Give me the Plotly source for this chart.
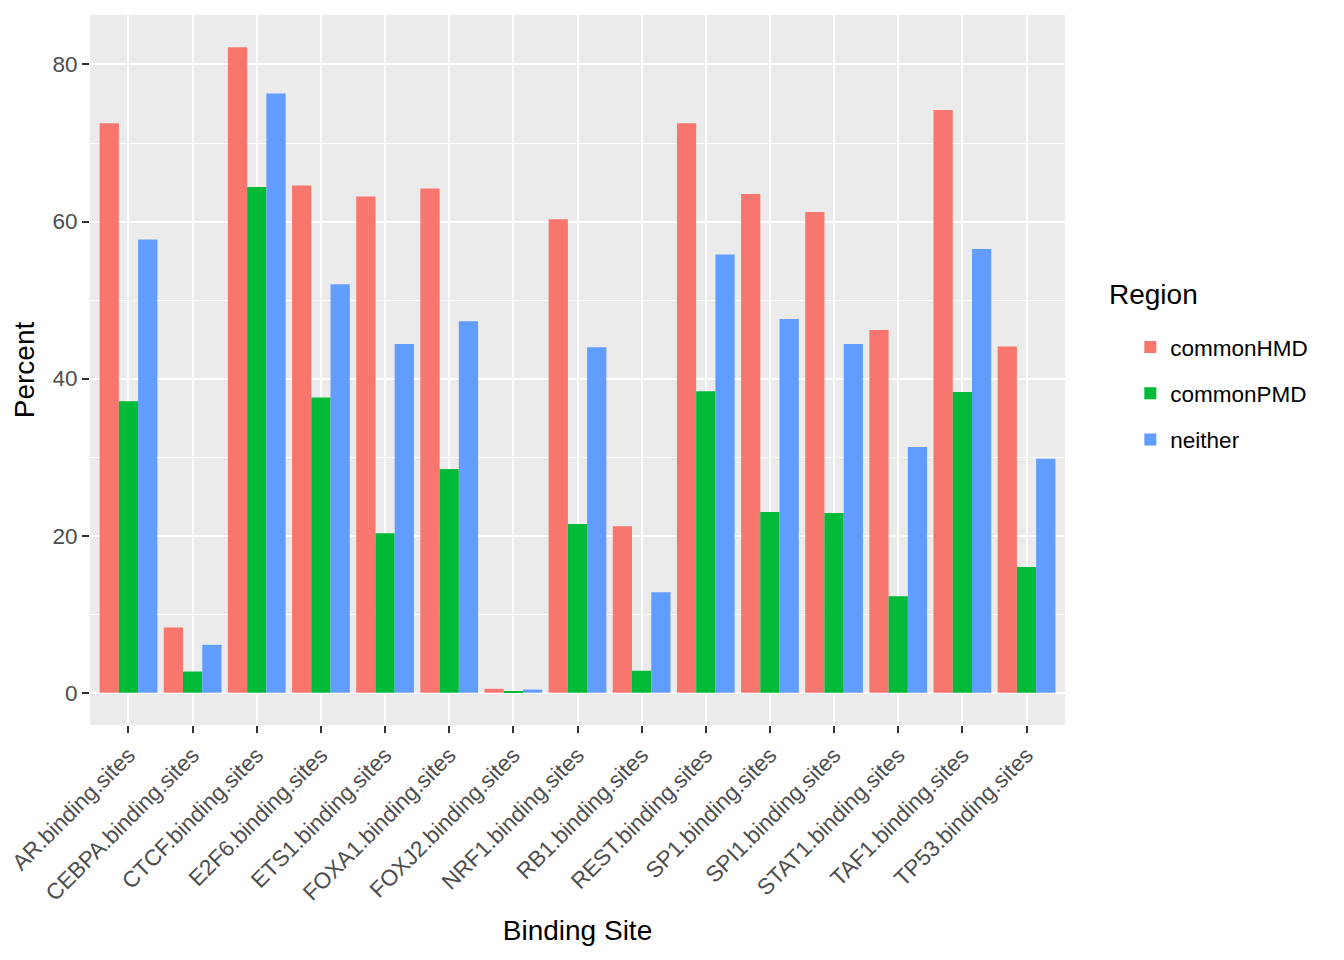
import plotly.graph_objects as go

# data
sites = ['AR.binding.sites', 'CEBPA.binding.sites', 'CTCF.binding.sites', 'E2F6.binding.sites',
         'ETS1.binding.sites', 'FOXA1.binding.sites', 'FOXJ2.binding.sites', 'NRF1.binding.sites',
         'RB1.binding.sites', 'REST.binding.sites', 'SP1.binding.sites', 'SPI1.binding.sites',
         'STAT1.binding.sites', 'TAF1.binding.sites', 'TP53.binding.sites']
commonHMD = [72.5, 8.3, 82.2, 64.6, 63.2, 64.2, 0.5, 60.3, 21.2, 72.5, 63.5, 61.2, 46.2, 74.2, 44.1]
commonPMD = [37.1, 2.7, 64.4, 37.6, 20.3, 28.5, 0.1, 21.5, 2.8, 38.4, 23.0, 22.9, 12.3, 38.3, 16.0]
neither = [57.7, 6.1, 76.3, 52.0, 44.4, 47.3, 0.4, 44.0, 12.8, 55.8, 47.6, 44.4, 31.3, 56.5, 29.8]

fig = go.Figure()
fig.add_trace(go.Bar(x=sites, y=commonHMD, name='commonHMD', legendgroup='a',
                     marker=dict(color='#F8766D', line=dict(width=0))))
fig.add_trace(go.Bar(x=sites, y=commonPMD, name='commonPMD', legendgroup='b',
                     marker=dict(color='#00BA38', line=dict(width=0))))
fig.add_trace(go.Bar(x=sites, y=neither, name='neither', legendgroup='c',
                     marker=dict(color='#619CFF', line=dict(width=0))))

# legend title as a separate annotation so the gap to the items can be set
fig.add_annotation(text='Region', xref='paper', yref='paper', x=1.043, y=0.606,
                   xanchor='left', yanchor='middle', showarrow=False,
                   font=dict(size=28, color='black'))

# page body has an 8px margin, so the figure is a bit smaller than the window
fig.update_layout(
    width=1328, height=944,
    barmode='group', bargap=0.1, bargroupgap=0,
    font=dict(family='Liberation Sans, Arial, sans-serif', color='black'),
    paper_bgcolor='white', plot_bgcolor='#EBEBEB',
    margin=dict(l=82, r=271, t=7, b=227),
    xaxis=dict(title=dict(text='Binding Site', font=dict(size=28), standoff=15),
               range=[-0.6, 14.6], showgrid=True, gridcolor='white', gridwidth=2,
               tickangle=-45, tickfont=dict(size=22.5, color='#4D4D4D'),
               ticks='outside', ticklen=7, tickcolor='#333333', tickwidth=2,
               zeroline=False, showline=False, automargin=False),
    yaxis=dict(title=dict(text='Percent', font=dict(size=28), standoff=9),
               range=[-4.11, 86.3], tickvals=[0, 20, 40, 60, 80],
               showgrid=True, gridcolor='white', gridwidth=2,
               minor=dict(tickvals=[10, 30, 50, 70], showgrid=True, gridcolor='white', gridwidth=1),
               tickfont=dict(size=22.5, color='#4D4D4D'),
               ticks='outside', ticklen=7, tickcolor='#333333', tickwidth=2,
               zeroline=False, showline=False, automargin=False),
    legend=dict(font=dict(size=22.5),
                x=1.067, y=0.562, xanchor='left', yanchor='top',
                itemsizing='constant', tracegroupgap=14),
)

fig.write_html("out.html")
